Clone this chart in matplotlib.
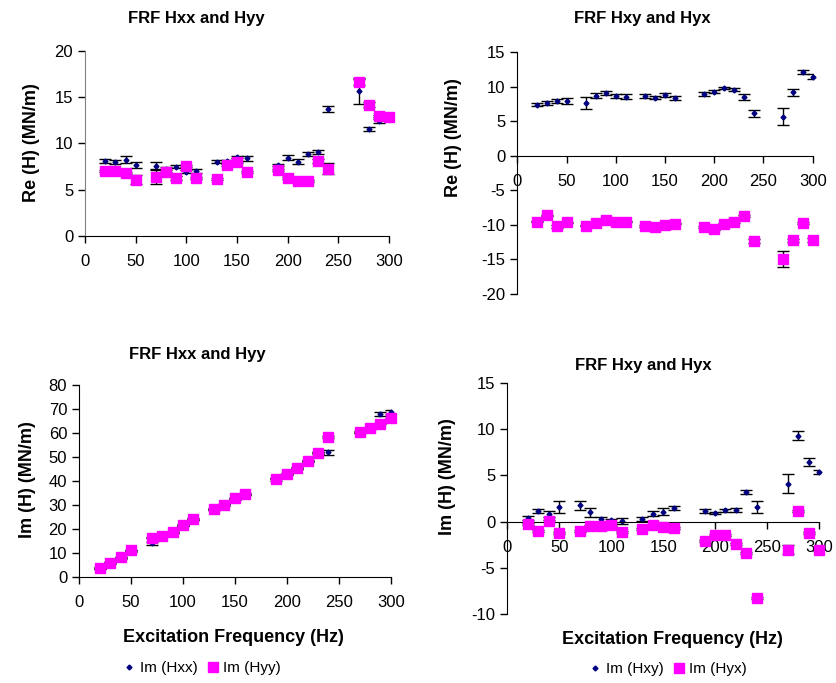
import numpy as np
import matplotlib.pyplot as plt
from matplotlib.lines import Line2D

plt.rcParams['font.family'] = ['Liberation Sans', 'DejaVu Sans']
plt.rcParams['axes.unicode_minus'] = False

# excitation frequencies (Hz)
freq = [20, 30, 40, 50, 70, 80, 90, 100, 110, 130, 140, 150, 160,
        190, 200, 210, 220, 230, 240, 270, 280, 290, 300]

# real parts (MN/m)
re_hxx = [8.13, 7.95, 8.24, 7.66, 7.59, 7.2, 7.48, 6.94, 6.98, 8.02, 8.05, 8.5, 8.38,
          7.7, 8.45, 8.02, 8.88, 9.06, 13.7, 15.6, 11.55, 12.45, 12.8]
re_hxx_err = [0.2, 0.2, 0.35, 0.35, 0.35, 0.3, 0.15, 0.15, 0.2, 0.15, 0.1, 0.1, 0.25,
              0.1, 0.25, 0.25, 0.2, 0.2, 0.35, 1.4, 0.2, 0.2, 0.2]
re_hyy = [6.98, 7.01, 6.83, 6.08, 6.37, 6.94, 6.29, 7.55, 6.29, 6.19, 7.63, 7.95, 6.87,
          7.16, 6.26, 5.94, 5.94, 8.13, 7.27, 16.6, 14.17, 12.99, 12.8]
re_hyy_err = [0.1, 0.1, 0.1, 0.45, 0.8, 0.2, 0.2, 0.1, 0.1, 0.1, 0.1, 0.1, 0.1,
              0.1, 0.1, 0.1, 0.1, 0.2, 0.6, 0.3, 0.3, 0.1, 0.1]

re_hxy = [7.41, 7.6, 7.94, 7.99, 7.65, 8.71, 9.1, 8.67, 8.57, 8.67, 8.43, 8.86, 8.38,
          9.0, 9.3, 9.83, 9.59, 8.57, 6.15, 5.67, 9.2, 12.15, 11.47]
re_hxy_err = [0.2, 0.3, 0.25, 0.45, 0.8, 0.35, 0.3, 0.25, 0.35, 0.35, 0.2, 0.3, 0.25,
              0.3, 0.2, 0.2, 0.25, 0.45, 0.5, 1.2, 0.5, 0.3, 0.35]
re_hyx = [-9.56, -8.64, -10.23, -9.65, -10.14, -9.8, -9.31, -9.65, -9.56, -10.18, -10.33, -9.99, -9.85,
          -10.33, -10.67, -9.89, -9.6, -8.73, -12.4, -14.96, -12.26, -9.75, -12.2]
re_hyx_err = [0.1, 0.1, 0.2, 0.1, 0.1, 0.1, 0.1, 0.1, 0.1, 0.1, 0.1, 0.1, 0.1,
              0.1, 0.1, 0.1, 0.1, 0.1, 0.3, 1.2, 0.2, 0.1, 0.3]

# imaginary parts (MN/m)
im_hxx = [3.7, 5.9, 8.1, 11.0, 14.1, 17.1, 18.6, 21.5, 24.0, 28.2, 30.0, 32.6, 34.4,
          40.6, 42.8, 45.2, 48.2, 51.6, 52.0, 60.1, 61.8, 67.7, 68.6]
im_hxx_err = [0.3, 0.3, 0.3, 0.3, 0.5, 0.3, 0.3, 0.3, 0.3, 0.3, 0.5, 0.3, 0.3,
              0.5, 0.3, 0.3, 0.3, 0.3, 1.0, 0.3, 0.3, 0.8, 0.8]
im_hyy = [3.88, 6.09, 8.3, 11.2, 16.5, 17.3, 18.8, 21.7, 24.2, 28.4, 30.2, 32.8, 34.6,
          41.0, 43.0, 45.4, 48.4, 51.8, 58.3, 60.3, 62.0, 63.8, 66.0]
im_hyy_err = [0.3] * 23

im_hxy = [0.36, 1.15, 0.83, 1.58, 1.76, 1.0, 0.25, 0.14, 0.1, 0.29, 0.86, 1.08, 1.5,
          1.15, 0.97, 1.22, 1.26, 3.2, 1.58, 4.1, 9.3, 6.44, 5.36]
im_hxy_err = [0.2, 0.25, 0.3, 0.6, 0.5, 0.5, 0.3, 0.15, 0.3, 0.2, 0.25, 0.35, 0.2,
              0.2, 0.1, 0.15, 0.25, 0.25, 0.6, 1.0, 0.5, 0.4, 0.25]
im_hyx = [-0.29, -1.0, 0.07, -1.22, -0.97, -0.47, -0.43, -0.36, -1.08, -0.79, -0.4, -0.58, -0.72,
          -2.05, -1.44, -1.44, -2.37, -3.38, -8.24, -3.02, 1.12, -1.22, -3.09]
im_hyx_err = [0.1] * 19 + [0.5, 0.1, 0.1, 0.1]

W, H = 836, 683
fig = plt.figure(figsize=(W / 100, H / 100), dpi=100)

NAVY = '#000080'
MAGENTA = '#FF00FF'


def box(x0, x1, ytop, ybot):
    # pixel box -> figure fraction
    return [x0 / W, 1 - ybot / H, (x1 - x0) / W, (ybot - ytop) / H]


def ftext(x, y, s, **kw):
    # text placed in pixels from the top-left corner
    fig.text(x / W, 1 - y / H, s, ha='center', va='center', **kw)


def draw(ax, y1, e1, y2, e2):
    a = ax.errorbar(freq, y1, yerr=e1, fmt='D', ms=2.5, color=NAVY, ecolor='black',
                    elinewidth=1, capsize=4, capthick=1, zorder=2)
    b = ax.errorbar(freq, y2, yerr=e2, fmt='s', ms=6.5, color=MAGENTA, ecolor='black',
                    elinewidth=1, capsize=4, capthick=1, zorder=3)
    for art in list(a.lines[0:1]) + list(b.lines[0:1]):
        art.set_clip_on(False)
    ax.set_xlim(0, 300)
    ax.set_xticks(range(0, 301, 50))
    ax.spines['top'].set_visible(False)
    ax.spines['right'].set_visible(False)
    ax.tick_params(labelsize=12, direction='out', length=5, width=1)
    ax.tick_params(axis='x', pad=8)
    ax.set_facecolor('none')


def legend(cx, cy, lab1, lab2):
    handles = [Line2D([], [], ls='none', marker='D', ms=2.5, color=NAVY),
               Line2D([], [], ls='none', marker='s', ms=6.5, color=MAGENTA)]
    fig.legend(handles, [lab1, lab2], loc='center', bbox_to_anchor=(cx / W, 1 - cy / H),
               ncol=2, frameon=False, fontsize=11, handlelength=0.8,
               handletextpad=0.3, columnspacing=0.6, borderpad=0)


ax1 = fig.add_axes(box(85, 389, 50.7, 236))
draw(ax1, re_hxx, re_hxx_err, re_hyy, re_hyy_err)
ax1.set_ylim(0, 20)
ax1.set_yticks(range(0, 21, 5))
ax1.spines['left'].set_color('#808080')
ftext(196, 18, 'FRF Hxx and Hyy', fontsize=12, fontweight='bold')
ftext(31, 143, 'Re (H) (MN/m)', fontsize=13, fontweight='bold', rotation=90)

ax2 = fig.add_axes(box(517.3, 812.7, 52.3, 293.7))
draw(ax2, re_hxy, re_hxy_err, re_hyx, re_hyx_err)
ax2.set_ylim(-20, 15)
ax2.set_yticks(range(-20, 16, 5))
ax2.spines['bottom'].set_position(('data', 0))
ftext(642, 18, 'FRF Hxy and Hyx', fontsize=12, fontweight='bold')
ftext(454, 138, 'Re (H) (MN/m)', fontsize=13, fontweight='bold', rotation=90)

ax3 = fig.add_axes(box(79, 390.7, 384.7, 577.3))
draw(ax3, im_hxx, im_hxx_err, im_hyy, im_hyy_err)
ax3.set_ylim(0, 80)
ax3.set_yticks(range(0, 81, 10))
ftext(197, 355, 'FRF Hxx and Hyy', fontsize=12, fontweight='bold')
ftext(28, 480, 'Im (H) (MN/m)', fontsize=13, fontweight='bold', rotation=90)
ftext(233, 638, 'Excitation Frequency (Hz)', fontsize=13, fontweight='bold')
legend(202, 668, 'Im (Hxx)', 'Im (Hyy)')

ax4 = fig.add_axes(box(507.3, 819, 382.7, 614.3))
draw(ax4, im_hxy, im_hxy_err, im_hyx, im_hyx_err)
ax4.set_ylim(-10, 15)
ax4.set_yticks(range(-10, 16, 5))
ax4.spines['bottom'].set_position(('data', 0))
ftext(643, 365, 'FRF Hxy and Hyx', fontsize=12, fontweight='bold')
ftext(448, 477, 'Im (H) (MN/m)', fontsize=13, fontweight='bold', rotation=90)
ftext(672, 639, 'Excitation Frequency (Hz)', fontsize=13, fontweight='bold')
legend(668, 669, 'Im (Hxy)', 'Im (Hyx)')

fig.savefig('out.png', dpi=100)
